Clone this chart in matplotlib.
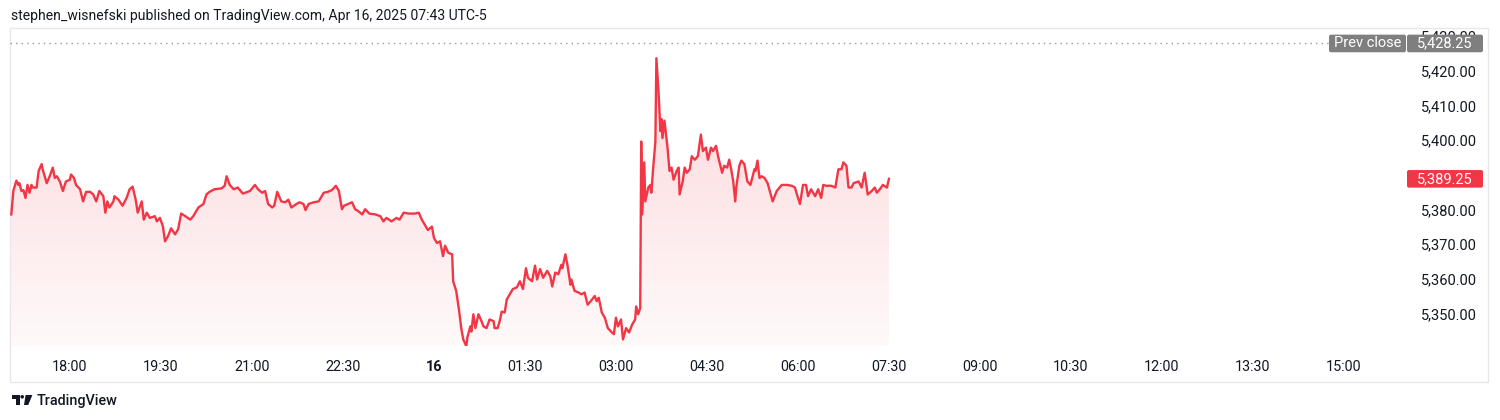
import numpy as np
import matplotlib
matplotlib.use("Agg")
import matplotlib.pyplot as plt
from matplotlib import transforms
from matplotlib.patches import Polygon, FancyBboxPatch, Rectangle, Circle

# ---------------- data ----------------
minutes_since_1700 = [
    2, 4, 7, 9, 10, 12, 14, 16, 18, 20, 22, 23, 27, 29, 32, 33, 37, 40, 43, 45,
    47, 50, 53, 56, 60, 61, 64, 66, 70, 73, 76, 80, 83, 86, 89, 93, 95, 97, 99, 103,
    104, 108, 112, 116, 119, 122, 125, 127, 131, 133, 136, 139, 144, 146, 149, 152, 154, 157, 160, 164,
    167, 170, 174, 179, 182, 187, 192, 195, 198, 203, 210, 213, 215, 218, 222, 226, 231, 238, 243, 246,
    250, 253, 256, 260, 262, 265, 269, 273, 276, 279, 284, 287, 291, 293, 296, 301, 306, 311, 315, 319,
    323, 326, 329, 331, 335, 339, 342, 345, 349, 352, 356, 362, 367, 370, 373, 378, 383, 386, 390, 395,
    401, 405, 408, 411, 414, 418, 420, 423, 426, 429, 431, 434, 438, 439, 442, 445, 447, 449, 452, 453,
    456, 457, 459, 461, 464, 467, 469, 472, 475, 479, 480, 483, 485, 487, 490, 492, 495, 498, 502, 505,
    508, 511, 513, 517, 520, 522, 525, 528, 532, 535, 537, 540, 543, 546, 547, 550, 552, 555, 556, 559,
    563, 566, 569, 572, 575, 579, 581, 583, 586, 589, 592, 596, 598, 600, 602, 605, 607, 610, 613, 616,
    619, 620, 622, 624, 625, 626, 628, 629, 632, 634, 635, 637, 639, 640, 642, 644, 645, 646, 648, 651,
    653, 655, 657, 660, 662, 663, 666, 668, 670, 673, 675, 678, 681, 684, 686, 689, 691, 694, 696, 699,
    701, 705, 707, 710, 712, 714, 716, 718, 719, 722, 724, 727, 730, 733, 737, 738, 740, 742, 744, 747,
    750, 755, 759, 764, 769, 774, 777, 779, 782, 785, 788, 790, 793, 797, 800, 803, 805, 808, 813, 817,
    820, 823, 825, 828, 830, 833, 835, 840, 843, 846, 849, 853, 856, 858, 861, 864, 868, 870,
]
price = [
    5379.0, 5385.75, 5388.75, 5387.5, 5388.0, 5385.75, 5386.0, 5383.75, 5387.5, 5385.25,
    5387.5, 5386.75, 5386.75, 5391.5, 5393.5, 5392.0, 5388.0, 5390.0, 5392.5, 5389.5,
    5390.0, 5388.5, 5385.75, 5388.5, 5389.0, 5390.5, 5389.5, 5387.5, 5386.25, 5382.75,
    5385.5, 5385.5, 5384.75, 5382.75, 5385.75, 5384.25, 5379.5, 5382.75, 5381.0, 5382.75,
    5384.25, 5383.25, 5381.5, 5383.75, 5386.25, 5387.0, 5383.25, 5379.5, 5382.75, 5377.5,
    5379.5, 5378.0, 5378.5, 5377.0, 5378.0, 5375.5, 5371.25, 5372.75, 5375.0, 5373.25,
    5374.75, 5379.25, 5378.5, 5377.5, 5378.5, 5381.0, 5382.0, 5384.75, 5385.5, 5386.25,
    5386.5, 5387.25, 5390.0, 5387.5, 5386.25, 5386.75, 5385.0, 5385.75, 5387.5, 5386.25,
    5385.25, 5385.75, 5382.0, 5381.0, 5381.5, 5385.5, 5382.75, 5382.5, 5383.25, 5381.0,
    5382.0, 5382.5, 5382.0, 5380.25, 5382.0, 5382.5, 5382.75, 5385.25, 5385.5, 5386.0,
    5387.25, 5385.75, 5380.5, 5381.5, 5382.0, 5382.5, 5380.5, 5380.0, 5379.0, 5380.5,
    5379.25, 5379.0, 5378.5, 5377.0, 5378.0, 5377.0, 5378.0, 5377.5, 5379.5, 5379.25,
    5379.25, 5379.5, 5377.5, 5376.0, 5374.5, 5375.5, 5372.25, 5370.75, 5371.25, 5367.0,
    5370.0, 5368.0, 5367.5, 5359.75, 5357.0, 5351.0, 5346.25, 5343.0, 5341.0, 5343.5,
    5346.75, 5345.25, 5350.25, 5346.25, 5350.25, 5348.25, 5346.75, 5346.25, 5348.75, 5348.25,
    5346.25, 5346.25, 5348.25, 5351.0, 5350.75, 5354.5, 5356.0, 5357.5, 5358.0, 5359.75,
    5357.5, 5363.5, 5360.75, 5359.75, 5364.25, 5360.25, 5363.25, 5360.75, 5362.75, 5361.25,
    5358.25, 5362.25, 5361.75, 5364.5, 5363.5, 5367.5, 5364.5, 5358.75, 5360.25, 5357.0,
    5356.5, 5356.0, 5356.5, 5353.0, 5354.0, 5355.5, 5354.0, 5355.0, 5350.75, 5349.25,
    5346.25, 5345.0, 5344.5, 5349.25, 5346.75, 5348.75, 5343.0, 5346.25, 5345.0, 5347.25,
    5348.75, 5352.5, 5350.25, 5352.0, 5400.0, 5379.0, 5394.0, 5382.75, 5386.75, 5387.5,
    5385.25, 5393.0, 5400.0, 5424.0, 5415.0, 5403.0, 5406.5, 5401.0, 5406.0, 5398.25,
    5391.5, 5392.5, 5389.0, 5391.5, 5392.5, 5384.75, 5388.5, 5392.5, 5391.0, 5392.0,
    5395.75, 5394.75, 5395.75, 5402.0, 5397.25, 5398.25, 5394.75, 5398.25, 5397.25, 5398.75,
    5395.75, 5391.0, 5393.0, 5392.5, 5394.75, 5392.0, 5388.5, 5382.75, 5386.75, 5393.0,
    5394.5, 5393.5, 5388.5, 5387.5, 5392.0, 5391.5, 5394.5, 5389.5, 5390.0, 5389.5,
    5388.0, 5382.75, 5385.75, 5387.5, 5387.5, 5387.25, 5386.75, 5384.75, 5382.0, 5387.5,
    5387.5, 5384.25, 5386.25, 5384.25, 5386.25, 5383.75, 5387.5, 5387.25, 5387.25, 5386.75,
    5392.0, 5392.0, 5394.0, 5393.0, 5386.75, 5386.75, 5388.0, 5388.5, 5386.75, 5391.0,
    5384.75, 5385.75, 5386.75, 5385.25, 5386.25, 5387.5, 5386.75, 5389.25,
]
prev_close = 5428.25
last_price = 5389.25
price_ticks = [5350, 5360, 5370, 5380, 5400, 5410, 5420, 5430]   # 5390 is hidden by the last-price tag
time_tick_minutes = [60, 150, 240, 330, 420, 510, 600, 690, 780, 870, 960, 1050, 1140, 1230, 1320]
time_tick_labels = ["18:00", "19:30", "21:00", "22:30", "16", "01:30", "03:00", "04:30",
                    "06:00", "07:30", "09:00", "10:30", "12:00", "13:30", "15:00"]
title_text = "stephen_wisnefski published on TradingView.com, Apr 16, 2025 07:43 UTC-5"

# ---------------- style ----------------
RED = "#F23645"
TXT = "#131722"
GREY_BOX = "#7F7F7F"
FONT = "Roboto"
plt.rcParams["font.family"] = [FONT, "DejaVu Sans"]

W, H = 1500, 420
fig = plt.figure(figsize=(W / 100, H / 100), dpi=100)
fig.patch.set_facecolor("white")


def fx(px):
    return px / W


def fy(py):
    return 1 - py / H


PL, PT, PR, PB = 10, 28, 1405, 346
ax = fig.add_axes([fx(PL), fy(PB), (PR - PL) / W, (PB - PT) / H])
XLIM = (0.7, 1380.4)
YLIM = (5341.1, 5432.7)
ax.axis("off")

x = np.array(minutes_since_1700, dtype=float)
y = np.array(price, dtype=float)

# gradient area fill
poly = Polygon(np.vstack([[x[0], YLIM[0]], np.column_stack([x, y]), [x[-1], YLIM[0]]]),
               closed=True, facecolor="none", edgecolor="none")
ax.add_patch(poly)
n = 256
img = np.zeros((n, 1, 4))
img[..., 0] = 242 / 255
img[..., 1] = 54 / 255
img[..., 2] = 69 / 255
img[..., 3] = np.linspace(0.03, 0.22, n)[:, None]
im = ax.imshow(img, extent=[x[0], x[-1], YLIM[0], YLIM[1]], origin="lower",
               aspect="auto", interpolation="bilinear", zorder=1)
im.set_clip_path(poly)

ax.plot(x, y, color=RED, lw=1.7, zorder=3, solid_joinstyle="round")
ax.axhline(prev_close, color="#9598A1", lw=1, ls=(0, (1, 3)), zorder=2)
ax.set_xlim(*XLIM)
ax.set_ylim(*YLIM)

renderer = fig.canvas.get_renderer()


def fit(t, target):
    w = t.get_window_extent(renderer).width
    return t.get_fontsize() * target / w


# price axis labels
ytrans = transforms.blended_transform_factory(fig.transFigure, ax.transData)
probe = fig.text(0, 0, "5,420.00", fontsize=10)
psize = fit(probe, 56)
probe.remove()
for v in price_ticks:
    ax.text(fx(1477), v, f"{v:,.2f}", transform=ytrans, ha="right", va="center",
            fontsize=psize, color=TXT, clip_on=False)

# time axis labels
xtrans = transforms.blended_transform_factory(ax.transData, fig.transFigure)
probe = fig.text(0, 0, "18:00", fontsize=10)
tsize = fit(probe, 35.6)
probe.remove()
for m, lab in zip(time_tick_minutes, time_tick_labels):
    ax.text(m, fy(367), lab, transform=xtrans, ha="center", va="center",
            fontsize=tsize, color=TXT, clip_on=False,
            fontweight="bold" if lab == "16" else "normal")

# boxes (display pixel coordinates)
ident = transforms.IdentityTransform()


def ypix(val):
    return ax.transData.transform((XLIM[0], val))[1]


def box(x0, x1, val, color, text):
    yc = ypix(val)
    h = 17.6
    p = FancyBboxPatch((x0, yc - h / 2), x1 - x0, h, boxstyle="round,pad=0,rounding_size=2",
                       transform=ident, facecolor=color, edgecolor="none", zorder=10)
    fig.add_artist(p)
    fig.text(fx((x0 + x1) / 2), yc / H, text, ha="center", va="center", color="white",
             fontsize=psize, zorder=11)


box(1329, 1406, prev_close, GREY_BOX, "Prev close")
box(1407, 1483, prev_close, GREY_BOX, f"{prev_close:,.2f}")
box(1407, 1483, last_price, RED, f"{last_price:,.2f}")

# outer frame
frame = Rectangle((10, H - 382), 1478, 354, transform=ident, fill=False,
                  edgecolor="#E6E8EE", lw=1, zorder=0)
fig.add_artist(frame)

# header
t = fig.text(fx(11), fy(16), title_text, ha="left", va="center", color=TXT, fontsize=10)
t.set_fontsize(fit(t, 478))

# footer logo
logo_col = "#131722"
fig.add_artist(Polygon([(11.7, H - 395), (19.6, H - 395), (19.6, H - 405), (15.8, H - 405),
                        (15.8, H - 398.6), (11.7, H - 398.6)], closed=True, transform=ident,
                       facecolor=logo_col, edgecolor="none"))
fig.add_artist(Circle((22.2, H - 396.8), 1.8, transform=ident, facecolor=logo_col, edgecolor="none"))
fig.add_artist(Polygon([(25.6, H - 395), (32.4, H - 395), (28.2, H - 405), (24.0, H - 405)],
                       closed=True, transform=ident, facecolor=logo_col, edgecolor="none"))
lt = fig.text(fx(37), fy(401), "TradingView", ha="left", va="center", color=logo_col,
              fontsize=11, fontweight="medium")
lt.set_fontsize(fit(lt, 81))

fig.savefig("out.png", dpi=100, facecolor="white")
